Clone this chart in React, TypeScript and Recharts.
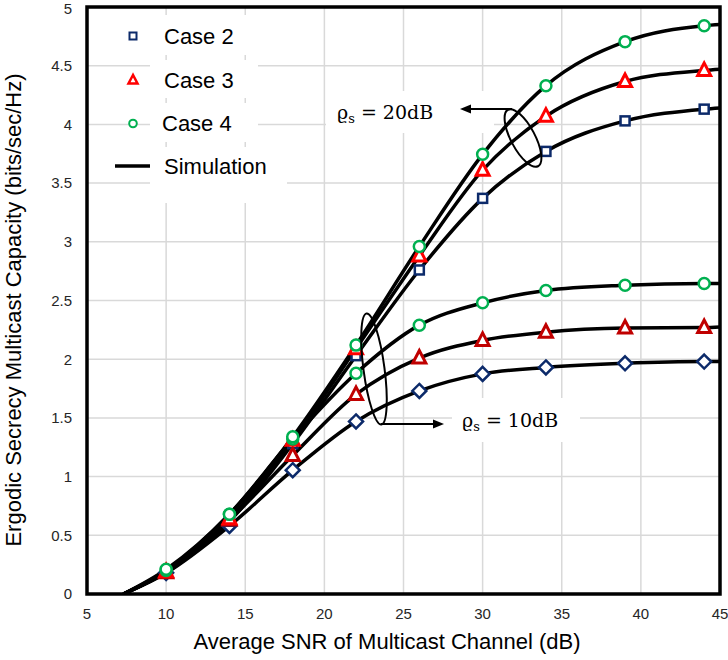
import { CartesianGrid, ComposedChart, Line, Scatter, XAxis, YAxis } from "recharts";

// the chart fills the whole window, so drop the default body margin
document.body.style.margin = "0";
const rootEl = document.getElementById("root");
if (rootEl) rootEl.style.overflow = "visible";

const W = 728;
const H = 660;

// SNR points where the analytical markers sit
const snrMarkers = [10, 14, 18, 22, 26, 30, 34, 39, 44];
// simulation curves are read at these SNR points
const snrSim = [7.3, 10, 14, 18, 22, 26, 30, 34, 39, 44, 45];

// rho_s = 20 dB
const case2High = [0.19, 0.62, 1.28, 2.03, 2.76, 3.37, 3.77, 4.03, 4.13];
const case3High = [0.19, 0.64, 1.31, 2.09, 2.88, 3.61, 4.07, 4.365, 4.46];
const case4High = [0.21, 0.68, 1.34, 2.12, 2.96, 3.745, 4.33, 4.705, 4.84];
// rho_s = 10 dB
const case2Low = [0.18, 0.58, 1.055, 1.47, 1.73, 1.875, 1.93, 1.965, 1.98];
const case3Low = [0.18, 0.63, 1.18, 1.7, 2.01, 2.16, 2.23, 2.265, 2.27];
const case4Low = [0.2, 0.68, 1.32, 1.88, 2.29, 2.48, 2.585, 2.63, 2.645];

const simCase2High = [0, 0.19, 0.62, 1.28, 2.03, 2.76, 3.37, 3.77, 4.03, 4.13, 4.14];
const simCase3High = [0, 0.19, 0.64, 1.31, 2.09, 2.88, 3.61, 4.07, 4.365, 4.46, 4.47];
const simCase4High = [0, 0.21, 0.68, 1.34, 2.12, 2.96, 3.745, 4.33, 4.705, 4.84, 4.85];
const simCase2Low = [0, 0.18, 0.58, 1.055, 1.47, 1.73, 1.875, 1.93, 1.965, 1.98, 1.98];
const simCase3Low = [0, 0.18, 0.63, 1.18, 1.7, 2.01, 2.16, 2.23, 2.265, 2.27, 2.275];
const simCase4Low = [0, 0.2, 0.68, 1.32, 1.88, 2.29, 2.48, 2.585, 2.63, 2.645, 2.645];

const xTicks = [5, 10, 15, 20, 25, 30, 35, 40, 45];
const yTicks = [0, 0.5, 1, 1.5, 2, 2.5, 3, 3.5, 4, 4.5, 5];

const NAVY = "#0C2A6A";
const RED = "#FF0000";
const DARK_RED = "#C00000";
const GREEN = "#00B050";
const FONT = "'Liberation Sans', Arial, sans-serif";

// plot box in pixels
const PL = 87;
const PT = 7;
const PR = 720;
const PB = 594;
const Y_AXIS_W = 60;
const X_AXIS_H = 40;

const pts = (xs: number[], ys: number[]) => xs.map((x, i) => ({ x, y: ys[i] }));

const square = (color: string) => (p: any) => (
  <rect x={p.cx - 4.5} y={p.cy - 4.5} width={9} height={9} fill="#fff" stroke={color} strokeWidth={2.5} />
);
const triangle = (color: string) => (p: any) => (
  <polygon
    points={`${p.cx},${p.cy - 7.5} ${p.cx - 6.5},${p.cy + 5} ${p.cx + 6.5},${p.cy + 5}`}
    fill="#fff"
    stroke={color}
    strokeWidth={3}
  />
);
const circle = (color: string) => (p: any) => (
  <circle cx={p.cx} cy={p.cy} r={5.5} fill="#fff" stroke={color} strokeWidth={2.5} />
);
const diamond = (color: string) => (p: any) => (
  <polygon
    points={`${p.cx},${p.cy - 7} ${p.cx + 7},${p.cy} ${p.cx},${p.cy + 7} ${p.cx - 7},${p.cy}`}
    fill="#fff"
    stroke={color}
    strokeWidth={2.5}
  />
);

const simLines = [simCase2High, simCase3High, simCase4High, simCase2Low, simCase3Low, simCase4Low];

const markerSeries = [
  { name: "case2Low", data: case2Low, shape: diamond(NAVY) },
  { name: "case2High", data: case2High, shape: square(NAVY) },
  { name: "case3Low", data: case3Low, shape: triangle(DARK_RED) },
  { name: "case3High", data: case3High, shape: triangle(RED) },
  { name: "case4Low", data: case4Low, shape: circle(GREEN) },
  { name: "case4High", data: case4High, shape: circle(GREEN) },
];

const Rho = ({ x, y, value }: { x: number; y: number; value: string }) => (
  <text x={x} y={y} fontFamily="'DejaVu Serif', serif" fontSize={19} fill="#000">
    ϱ
    <tspan fontSize={13} dy={4}>
      s
    </tspan>
    <tspan dy={-4}>{` = ${value}`}</tspan>
  </text>
);

const Overlay = () => (
  <svg
    width={W}
    height={H}
    style={{ position: "absolute", left: 0, top: 0, pointerEvents: "none", overflow: "visible" }}
  >
    {/* legend text backgrounds */}
    <rect x={152} y={15} width={106} height={40} fill="#fff" />
    <rect x={150} y={60} width={108} height={38} fill="#fff" />
    <rect x={150} y={103} width={108} height={39} fill="#fff" />
    <rect x={150} y={147} width={137} height={56} fill="#fff" />
    {/* annotation backgrounds */}
    <rect x={326} y={91} width={168} height={42} fill="#fff" />
    <rect x={452} y={398} width={128} height={44} fill="#fff" />

    {/* legend */}
    <g fontFamily={FONT} fontSize={22} fill="#000">
      <rect x={129.5} y={32.5} width={7} height={7} fill="#fff" stroke={NAVY} strokeWidth={2} />
      <text x={164} y={43.5}>Case 2</text>
      <polygon points="133,75 128.5,83.5 137.5,83.5" fill="#fff" stroke={RED} strokeWidth={2.5} />
      <text x={164} y={87.5}>Case 3</text>
      <circle cx={133} cy={123.5} r={3.8} fill="#fff" stroke={GREEN} strokeWidth={2} />
      <text x={162} y={131}>Case 4</text>
      <line x1={115} y1={166} x2={150} y2={166} stroke="#000" strokeWidth={3.5} />
      <text x={164} y={173.5}>Simulation</text>
    </g>

    {/* rho_s = 20 dB annotation */}
    <ellipse cx={523} cy={138} rx={12} ry={32} fill="none" stroke="#000" strokeWidth={2} transform="rotate(-28 523 138)" />
    <line x1={512} y1={109} x2={469} y2={109} stroke="#000" strokeWidth={2} />
    <polygon points="460,109 471,104.5 471,113.5" fill="#000" />
    <Rho x={337} y={119} value="20dB" />

    {/* rho_s = 10 dB annotation */}
    <ellipse cx={374} cy={369} rx={10.5} ry={56} fill="none" stroke="#000" strokeWidth={2} transform="rotate(-7.6 374 369)" />
    <line x1={381} y1={424} x2={435} y2={424} stroke="#000" strokeWidth={2} />
    <polygon points="444,424 433,419.5 433,428.5" fill="#000" />
    <Rho x={462} y={427} value="10dB" />

    {/* axis titles */}
    <text x={387} y={649} textAnchor="middle" fontFamily={FONT} fontSize={22} fill="#000">
      Average SNR of Multicast Channel (dB)
    </text>
    <text
      x={21}
      y={310}
      textAnchor="middle"
      fontFamily={FONT}
      fontSize={22}
      fill="#000"
      transform="rotate(-90 21 310)"
    >
      Ergodic Secrecy Multicast Capacity (bits/sec/Hz)
    </text>

    {/* plot frame */}
    <rect x={PL} y={PT} width={PR - PL} height={PB - PT} fill="none" stroke="#000" strokeWidth={3.5} />
  </svg>
);

export default function App() {
  return (
    <div style={{ position: "relative", width: W, height: H, background: "#fff" }}>
      <ComposedChart
        width={W}
        height={H}
        style={{ overflow: "visible" }}
        margin={{ top: PT, right: W - PR, left: PL - Y_AXIS_W, bottom: H - PB - X_AXIS_H }}
      >
        <CartesianGrid stroke="#D9D9D9" strokeWidth={1.5} />
        <XAxis
          type="number"
          dataKey="x"
          domain={[5, 45]}
          ticks={xTicks}
          allowDataOverflow
          height={X_AXIS_H}
          axisLine={false}
          tickLine={false}
          tickSize={6}
          tickMargin={8}
          tick={{ fontSize: 15, fontFamily: FONT, fill: "#262626" }}
        />
        <YAxis
          type="number"
          domain={[0, 5]}
          ticks={yTicks}
          allowDataOverflow
          width={Y_AXIS_W}
          axisLine={false}
          tickLine={false}
          tickSize={6}
          tickMargin={9}
          tick={{ fontSize: 15, fontFamily: FONT, fill: "#262626" }}
        />
        {simLines.map((ys, i) => (
          <Line
            key={`sim${i}`}
            data={pts(snrSim, ys)}
            dataKey="y"
            type="monotone"
            stroke="#000"
            strokeWidth={3.5}
            dot={false}
            activeDot={false}
            isAnimationActive={false}
          />
        ))}
        {markerSeries.map((s) => (
          <Scatter
            key={s.name}
            name={s.name}
            data={pts(snrMarkers, s.data)}
            dataKey="y"
            shape={s.shape}
            isAnimationActive={false}
          />
        ))}
      </ComposedChart>
      <Overlay />
    </div>
  );
}
